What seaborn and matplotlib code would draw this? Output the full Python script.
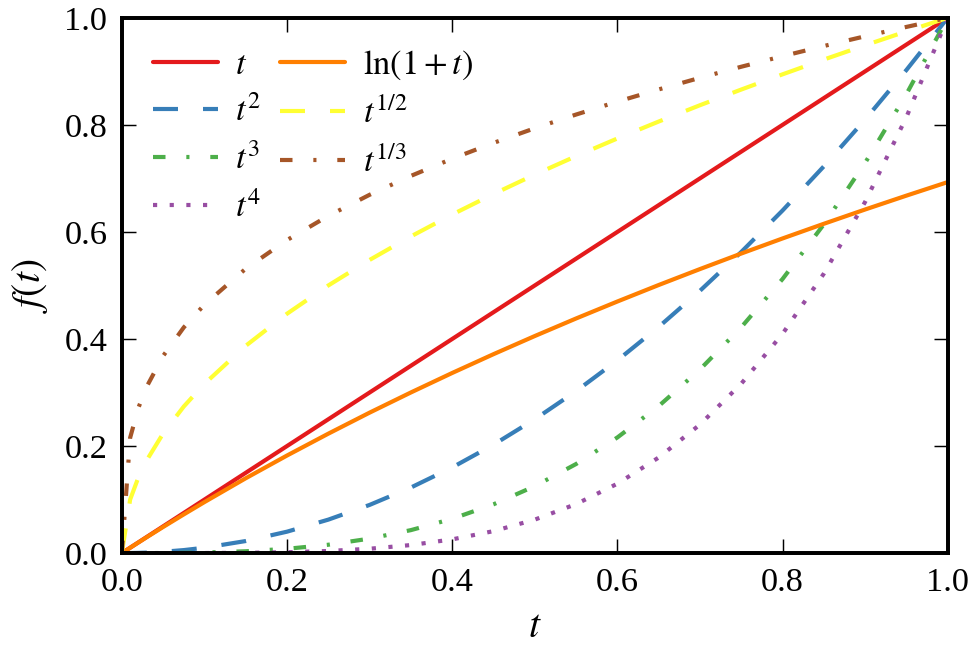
import numpy as np
import pandas as pd
import matplotlib
matplotlib.use("Agg")
import matplotlib.pyplot as plt
import seaborn as sns

# sample points along t
t_vals = [0, 0.01, 0.02, 0.03, 0.05, 0.075, 0.1, 0.15, 0.2, 0.25, 0.3, 0.35, 0.4,
          0.45, 0.5, 0.55, 0.6, 0.65, 0.7, 0.75, 0.8, 0.85, 0.9, 0.95, 1.0]

f_t = list(t_vals)
f_t2 = [0, 0.0001, 0.0004, 0.0009, 0.0025, 0.0056, 0.01, 0.0225, 0.04, 0.0625, 0.09,
        0.1225, 0.16, 0.2025, 0.25, 0.3025, 0.36, 0.4225, 0.49, 0.5625, 0.64, 0.7225,
        0.81, 0.9025, 1.0]
f_t3 = [0, 0, 0, 0, 0.0001, 0.0004, 0.001, 0.0034, 0.008, 0.0156, 0.027, 0.0429,
        0.064, 0.0911, 0.125, 0.1664, 0.216, 0.2746, 0.343, 0.4219, 0.512, 0.6141,
        0.729, 0.8574, 1.0]
f_t4 = [0, 0, 0, 0, 0, 0, 0.0001, 0.0005, 0.0016, 0.0039, 0.0081, 0.015, 0.0256,
        0.041, 0.0625, 0.0915, 0.1296, 0.1785, 0.2401, 0.3164, 0.4096, 0.522, 0.6561,
        0.8145, 1.0]
f_ln = [0, 0.00995, 0.0198, 0.0296, 0.0488, 0.0723, 0.0953, 0.1398, 0.1823, 0.2231,
        0.2624, 0.3001, 0.3365, 0.3716, 0.4055, 0.4383, 0.47, 0.5008, 0.5306, 0.5596,
        0.5878, 0.6152, 0.6419, 0.6678, 0.6931]
f_sqrt = [0, 0.1, 0.1414, 0.1732, 0.2236, 0.2739, 0.3162, 0.3873, 0.4472, 0.5,
          0.5477, 0.5916, 0.6325, 0.6708, 0.7071, 0.7416, 0.7746, 0.8062, 0.8367,
          0.866, 0.8944, 0.922, 0.9487, 0.9747, 1.0]
f_cbrt = [0, 0.2154, 0.2714, 0.3107, 0.3684, 0.4217, 0.4642, 0.5313, 0.5848, 0.63,
          0.6694, 0.7047, 0.7368, 0.7663, 0.7937, 0.8193, 0.8434, 0.8662, 0.8879,
          0.9086, 0.9283, 0.9473, 0.9655, 0.983, 1.0]

labels = [r"$t$", r"$t^2$", r"$t^3$", r"$t^4$", r"$\ln(1+t)$", r"$t^{1/2}$", r"$t^{1/3}$"]
series = [f_t, f_t2, f_t3, f_t4, f_ln, f_sqrt, f_cbrt]
palette = sns.color_palette("Set1", 7)
styles = ["-", (0, (6, 6)), (0, (3, 5, 0.75, 5)), (0, (1, 3)),
          "-", (0, (6, 6)), (0, (3, 5, 0.75, 5))]

sns.set_style("ticks")
plt.rcParams["font.family"] = ["Liberation Serif", "DejaVu Serif"]
plt.rcParams["mathtext.fontset"] = "stix"
plt.rcParams["xtick.direction"] = "in"
plt.rcParams["ytick.direction"] = "in"
plt.rcParams["text.color"] = "black"
plt.rcParams["axes.labelcolor"] = "black"
plt.rcParams["xtick.color"] = "black"
plt.rcParams["ytick.color"] = "black"

fig, ax = plt.subplots(figsize=(6.5, 4.4), dpi=150)
fig.subplots_adjust(left=0.125, right=0.972, top=0.973, bottom=0.162)

for y, lab, col, ls in zip(series, labels, palette, styles):
    sns.lineplot(x=t_vals, y=y, color=col, linestyle=ls, linewidth=2,
                 label=lab, ax=ax, sort=False)

ax.set_xlim(0, 1)
ax.set_ylim(0, 1)
ax.set_xticks(np.arange(0, 1.01, 0.2))
ax.set_yticks(np.arange(0, 1.01, 0.2))
ax.xaxis.set_major_formatter(matplotlib.ticker.FormatStrFormatter("%.1f"))
ax.yaxis.set_major_formatter(matplotlib.ticker.FormatStrFormatter("%.1f"))
ax.tick_params(axis="both", which="major", labelsize=16.5, length=6.5, width=0.7,
               top=True, right=True, color="black", labelcolor="black", pad=7)
for sp in ax.spines.values():
    sp.set_linewidth(1.9)
    sp.set_color("black")

ax.set_xlabel(r"$t$", fontsize=19, labelpad=5)
ax.set_ylabel(r"$f(t)$", fontsize=19, labelpad=7)

ax.legend(ncol=2, loc="upper left", frameon=False, fontsize=16.5,
          handlelength=1.9, handletextpad=0.5, labelspacing=0.45,
          columnspacing=0.55, borderaxespad=0.5)

fig.savefig("out.png", dpi=150)
